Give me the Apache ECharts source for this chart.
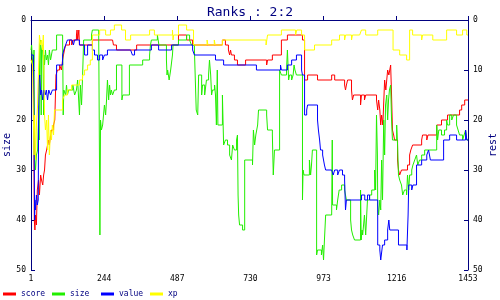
<!DOCTYPE html>
<html><head><meta charset="utf-8">
<script src="https://cdn.jsdelivr.net/npm/echarts@6/dist/echarts.min.js"></script>
<style>html,body{margin:0;padding:0;background:#fff}#c{width:500px;height:300px}</style>
</head><body><div id="c"></div>
<script>
const titleText = 'Ranks : 2:2';
const seriesNames = ['score', 'size', 'value', 'xp'];
const leftAxisName = 'size';
const rightAxisName = 'rest';
const xTickLabels = [1, 244, 487, 730, 973, 1216, 1453];
const yTickLabels = [0, 10, 20, 30, 40, 50];

const scoreData = [[1,8],[9,8],[12,40],[14,42],[16,39],[19,41],[22,34],[26,32],[29,35],[33,31],[36,32],[40,33],[43,31],[46,30],[49,27],[53,26],[56,25],[59,24],[62,25],[66,23],[69,22],[76,21],[80,20],[84,11],[89,10],[96,9],[102,10],[106,8],[109,7],[112,6],[116,5],[129,4],[136,5],[142,4],[152,3],[154,2],[156,4],[158,3],[160,2],[162,5],[205,4],[272,4],[275,5],[285,6],[352,5],[491,3],[518,4],[538,5],[637,4],[647,5],[657,6],[661,7],[664,6],[667,7],[677,8],[687,9],[714,8],[784,9],[787,8],[803,7],[833,4],[853,3],[903,4],[910,12],[920,11],[953,12],[1000,11],[1010,12],[1043,13],[1046,14],[1049,13],[1053,12],[1066,14],[1069,16],[1073,15],[1096,17],[1099,15],[1109,16],[1113,15],[1149,16],[1153,18],[1156,16],[1160,18],[1163,21],[1166,19],[1170,21],[1176,12],[1180,14],[1183,12],[1186,10],[1190,11],[1196,9],[1199,15],[1202,22],[1206,23],[1209,24],[1219,28],[1222,30],[1226,31],[1232,30],[1252,29],[1259,27],[1263,26],[1269,25],[1299,24],[1302,23],[1316,24],[1320,23],[1349,21],[1365,20],[1385,19],[1425,18],[1432,17],[1442,16],[1453,16]];

const sizeData = [[1,6],[3,5],[6,8],[9,11],[11,6],[13,28],[16,30],[19,27],[23,26],[26,20],[28,24],[30,5],[33,4],[35,19],[36,6],[39,5],[41,8],[43,19],[44,7],[46,9],[49,6],[52,8],[56,7],[59,9],[62,6],[66,8],[69,7],[72,6],[86,3],[106,3],[108,19],[110,14],[116,15],[119,13],[122,15],[126,14],[140,13],[146,15],[152,14],[156,12],[162,19],[165,13],[169,17],[172,12],[176,4],[202,3],[205,2],[226,3],[230,43],[232,20],[235,22],[239,21],[245,17],[249,19],[252,16],[255,12],[259,16],[262,13],[265,15],[268,14],[272,15],[278,14],[285,9],[303,16],[306,15],[328,9],[372,8],[395,7],[398,5],[401,4],[421,3],[426,5],[451,8],[453,11],[455,10],[460,12],[465,10],[471,7],[473,5],[491,4],[518,3],[528,4],[534,5],[544,6],[547,12],[550,18],[555,19],[558,11],[568,15],[571,13],[578,15],[584,12],[591,11],[594,8],[598,11],[601,15],[604,14],[611,13],[614,15],[617,21],[620,10],[622,21],[637,15],[641,25],[647,24],[654,25],[661,27],[667,28],[671,25],[677,26],[684,24],[687,23],[689,35],[691,39],[694,41],[704,42],[711,28],[737,29],[740,22],[744,25],[748,23],[754,21],[757,18],[784,19],[787,22],[803,23],[806,31],[810,26],[827,10],[833,11],[850,10],[853,6],[857,12],[860,11],[867,12],[872,11],[875,9],[878,10],[883,11],[903,36],[905,30],[908,31],[926,28],[930,31],[933,29],[936,26],[950,47],[953,46],[966,47],[970,45],[973,48],[976,44],[980,39],[1000,39],[1002,24],[1003,37],[1016,38],[1020,36],[1025,34],[1033,33],[1043,34],[1046,35],[1049,36],[1063,40],[1066,42],[1070,43],[1076,44],[1096,34],[1098,44],[1101,42],[1103,43],[1106,41],[1109,39],[1113,43],[1119,36],[1126,35],[1133,34],[1143,30],[1146,34],[1149,19],[1152,27],[1153,37],[1156,39],[1160,36],[1163,38],[1166,28],[1169,36],[1173,20],[1176,27],[1179,17],[1183,15],[1186,20],[1189,16],[1192,14],[1196,13],[1199,20],[1202,24],[1216,21],[1219,25],[1222,31],[1226,32],[1232,33],[1236,35],[1242,34],[1249,35],[1252,31],[1256,34],[1259,31],[1266,30],[1270,29],[1276,28],[1282,27],[1286,29],[1292,28],[1299,27],[1309,26],[1349,21],[1352,24],[1356,22],[1365,23],[1375,22],[1382,20],[1385,21],[1392,19],[1399,20],[1405,19],[1415,21],[1420,22],[1425,23],[1435,24],[1440,23],[1445,22],[1449,24],[1453,24]];

const valueData = [[1,7],[9,7],[12,30],[13,40],[14,36],[16,38],[19,35],[22,37],[25,36],[27,12],[30,11],[33,15],[36,14],[40,16],[44,14],[48,15],[52,14],[56,16],[60,14],[66,15],[72,14],[86,9],[106,7],[110,6],[116,5],[122,4],[138,4],[142,5],[146,4],[162,5],[179,7],[189,5],[205,6],[212,7],[222,8],[229,7],[239,8],[245,7],[255,6],[332,6],[338,7],[345,6],[401,5],[425,6],[468,5],[538,6],[544,7],[614,8],[641,9],[750,10],[830,9],[833,10],[853,9],[867,8],[883,7],[900,10],[903,11],[910,19],[917,18],[920,17],[953,20],[956,22],[960,24],[963,26],[970,27],[976,29],[980,30],[1000,30],[1005,31],[1010,30],[1020,31],[1026,30],[1036,31],[1043,32],[1046,38],[1049,36],[1099,35],[1110,36],[1119,35],[1126,36],[1153,45],[1160,46],[1163,48],[1169,45],[1176,44],[1186,42],[1190,40],[1193,42],[1222,45],[1250,46],[1254,39],[1256,33],[1266,34],[1270,33],[1282,29],[1299,28],[1316,27],[1322,26],[1328,28],[1372,24],[1392,23],[1415,24],[1445,22],[1449,24],[1453,24]];

const xpData = [[1,8],[6,9],[9,20],[11,27],[13,19],[16,28],[19,21],[23,17],[29,3],[33,5],[36,4],[39,6],[42,3],[44,11],[46,19],[49,22],[53,20],[56,26],[59,19],[62,27],[66,22],[69,24],[72,21],[76,23],[79,18],[106,16],[112,15],[122,14],[136,13],[162,12],[172,11],[179,10],[189,9],[198,8],[205,3],[229,2],[249,3],[265,2],[278,1],[302,2],[315,4],[332,3],[395,2],[411,3],[471,2],[473,4],[475,3],[491,1],[518,2],[541,5],[586,4],[589,5],[610,4],[613,5],[637,4],[782,5],[787,3],[833,2],[880,3],[884,2],[900,3],[910,6],[943,5],[1000,4],[1026,3],[1043,4],[1046,3],[1066,4],[1069,3],[1093,3],[1099,2],[1113,3],[1153,2],[1204,6],[1226,7],[1249,8],[1259,2],[1269,3],[1299,4],[1302,3],[1336,4],[1382,2],[1415,3],[1435,2],[1449,3],[1453,3]];

const seriesData = [scoreData, sizeData, valueData, xpData];
const colors = ['#ff0000', '#22ee00', '#0000ff', '#ffff00'];
const navy = '#000080';
const mono = 'DejaVu Sans Mono';

function yAxis(name, pos) {
  return {
    type: 'value', min: 0, max: 50, interval: 10, inverse: true, position: pos,
    name: name, nameLocation: 'middle', nameRotate: 90, nameGap: pos === 'left' ? 19 : 20,
    nameMoveOverlap: false,
    nameTextStyle: { color: navy, fontFamily: mono, fontSize: 10 },
    axisLine: { show: true, lineStyle: { color: navy, width: 1 } },
    axisTick: { show: true, inside: true, length: 4, lineStyle: { color: navy } },
    axisLabel: { color: '#000', fontFamily: mono, fontSize: 8, margin: 5,
      formatter: v => String(v) },
    splitLine: { show: false }
  };
}

const legendLeft = [3, 52, 101, 150];
const option = {
  animation: false,
  backgroundColor: '#fff',
  title: { text: titleText, left: 'center', top: 1,
    textStyle: { color: navy, fontFamily: mono, fontSize: 13, fontWeight: 'normal' } },
  grid: { left: 31, right: 32, top: 20, bottom: 30, containLabel: false, outerBoundsMode: 'none' },
  legend: seriesNames.map((n, i) => ({
    data: [n], left: legendLeft[i], top: 290, padding: 0, itemGap: 0,
    itemWidth: 13, itemHeight: 3, icon: 'rect',
    textStyle: { color: navy, fontFamily: mono, fontSize: 8 }
  })),
  xAxis: {
    type: 'value', min: 1, max: 1453,
    axisLine: { show: true, lineStyle: { color: navy } },
    axisTick: { show: true, inside: true, length: 4, lineStyle: { color: navy }, customValues: xTickLabels },
    axisLabel: { color: '#000', fontFamily: mono, fontSize: 8, margin: 5, customValues: xTickLabels,
      formatter: v => String(v) },
    splitLine: { show: false }
  },
  yAxis: [yAxis(leftAxisName, 'left'), yAxis(rightAxisName, 'right')],
  series: seriesNames.map((n, i) => ({
    name: n, type: 'line', step: 'end', data: seriesData[i],
    showSymbol: false, symbol: 'none', yAxisIndex: 0,
    lineStyle: { color: colors[i], width: 1 }, itemStyle: { color: colors[i] }
  }))
};
const chart = echarts.init(document.getElementById('c'), null, { renderer: 'canvas' });
chart.setOption(option);
</script>
</body></html>
